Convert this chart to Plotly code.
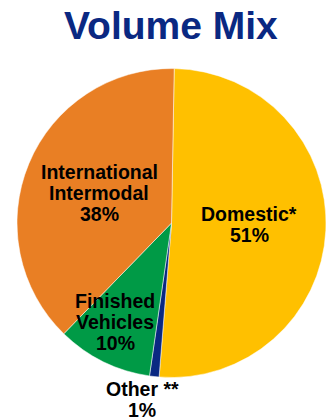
import plotly.graph_objects as go

labels = ["Domestic*", "Other **", "Finished Vehicles", "International Intermodal"]
values = [51, 1, 10, 38]
label_lines = [["Domestic*", "51%"], ["Other **", "1%"], ["Finished", "Vehicles", "10%"],
               ["International", "Intermodal", "38%"]]
colors = ["#FFC000", "#0A2882", "#009A46", "#E97F24"]
# label anchor (center x, first-line middle y) in pixels (styling)
label_pos = [(249, 214), (142, 389), (115, 301), (99, 172)]
LINE_H = 21

W, H = 326, 419
cx, cy, r = 172, 223, 155

fig = go.Figure(go.Pie(
    labels=labels, values=values, sort=False, direction="clockwise", rotation=1,
    marker=dict(colors=colors, line=dict(color="white", width=0.5)),
    textinfo="none", hoverinfo="label+percent", showlegend=False,
    domain=dict(x=[(cx - r) / W, min(1, (cx + r) / W)], y=[(H - cy - r) / H, (H - cy + r) / H]),
))

annotations = [dict(text="<b>Volume Mix</b>", x=171 / W, y=1 - 25 / H, xref="paper", yref="paper",
                    xanchor="center", yanchor="middle", showarrow=False,
                    font=dict(family="Liberation Sans, Arial", size=39, color="#0A2882"))]
for lines, (px, py) in zip(label_lines, label_pos):
    for i, t in enumerate(lines):
        annotations.append(dict(text="<b>" + t + "</b>", x=px / W, y=1 - (py + i * LINE_H) / H,
                                xref="paper", yref="paper", xanchor="center", yanchor="middle",
                                showarrow=False,
                                font=dict(family="Liberation Sans, Arial", size=19.5, color="black")))

fig.update_layout(width=W, height=H, margin=dict(l=0, r=0, t=0, b=0),
                  paper_bgcolor="white", plot_bgcolor="white", annotations=annotations)
fig.write_html("out.html")
